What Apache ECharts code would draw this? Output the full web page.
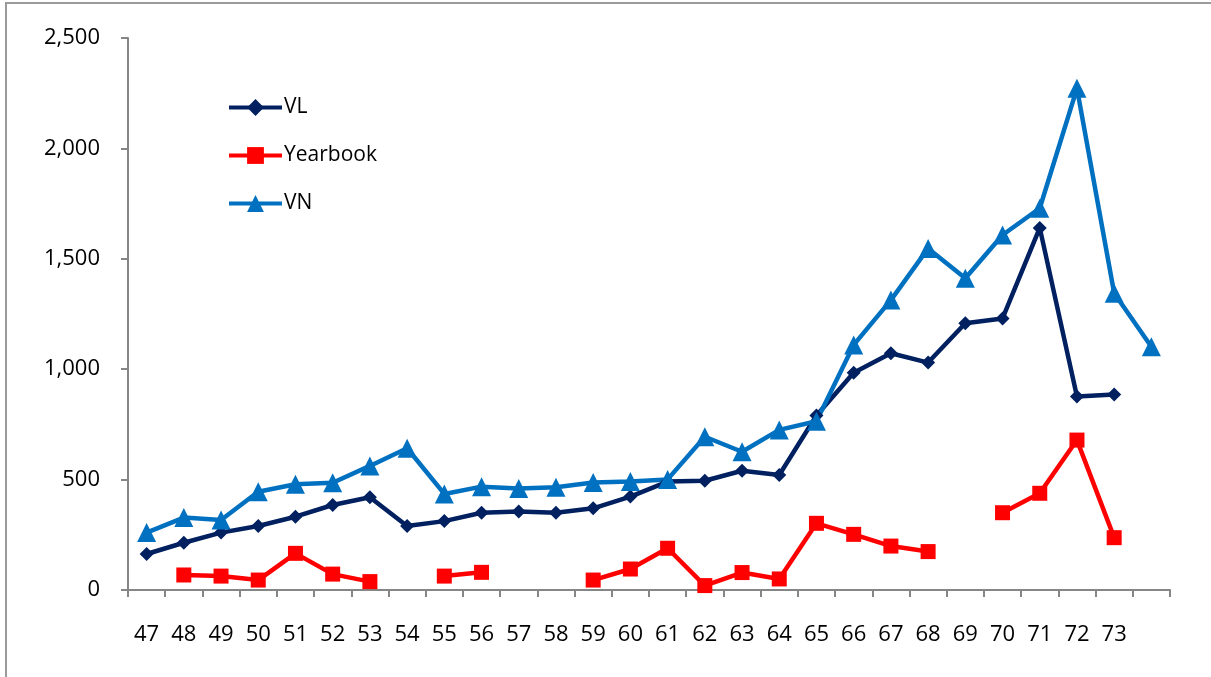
<!DOCTYPE html>
<html>
<head>
<meta charset="utf-8">
<script src="https://cdn.jsdelivr.net/npm/echarts@6/dist/echarts.min.js"></script>
<style>
  html, body { margin: 0; padding: 0; background: #fff; }
  #chart { width: 1211px; height: 677px; }
</style>
</head>
<body>
<div id="chart"></div>
<script>
// years 47..73, plus one unlabeled slot at the end (VN has a point there)
const years = ['47', '48', '49', '50', '51', '52', '53', '54', '55', '56', '57', '58', '59', '60',
  '61', '62', '63', '64', '65', '66', '67', '68', '69', '70', '71', '72', '73', '']

const vl = [163, 214, 260, 290, 332, 385, 420, 290, 312, 350, 355, 350, 370, 423,
  491, 495, 540, 521, 790, 984, 1072, 1030, 1208, 1230, 1640, 876, 885, null]

const yearbook = [null, 68, 63, 45, 166, 72, 38, null, 63, 80, null, null, 45, 95,
  189, 20, 79, 50, 302, 252, 199, 174, null, 350, 438, 679, 237, null]

const vn = [260, 328, 317, 445, 479, 486, 562, 642, 435, 468, 460, 465, 487, 491,
  501, 694, 626, 725, 764, 1110, 1313, 1547, 1412, 1608, 1729, 2272, 1344, 1102]

const font = 'Open Sans'
const axisGray = '#868686'

function lineSeries(name, data, color, symbol, size) {
  return {
    name,
    type: 'line',
    data,
    symbol,
    symbolSize: size,
    connectNulls: false,
    lineStyle: { color, width: 4.5 },
    itemStyle: { color },
    emphasis: { disabled: true },
  }
}

const chart = echarts.init(document.getElementById('chart'))
chart.setOption({
  animation: false,
  textStyle: { fontFamily: font },
  grid: { left: 128, right: 41, top: 38, bottom: 87 },
  graphic: [{
    type: 'rect',
    shape: { x: 6, y: 3, width: 1400, height: 900 },
    style: { fill: 'none', stroke: '#9a9a9a', lineWidth: 2 },
    silent: true,
  }],
  legend: {
    orient: 'vertical',
    left: 222,
    top: 92,
    itemWidth: 53,
    itemHeight: 21,
    itemGap: 27,
    lineStyle: { width: 4 },
    textStyle: { fontFamily: font, fontSize: 21, color: '#000', padding: [0, 0, 0, -3] },
    data: ['VL', 'Yearbook', 'VN'],
  },
  xAxis: {
    type: 'category',
    data: years,
    boundaryGap: true,
    axisLine: { lineStyle: { color: axisGray, width: 2 } },
    axisTick: { show: true, length: 7, lineStyle: { color: axisGray, width: 2 } },
    axisLabel: { color: '#000', fontSize: 22, fontFamily: font, margin: 34, interval: 0 },
  },
  yAxis: {
    type: 'value',
    min: 0,
    max: 2500,
    interval: 500,
    splitLine: { show: false },
    axisLine: { show: true, lineStyle: { color: axisGray, width: 2 } },
    axisTick: { show: true, length: 7, lineStyle: { color: axisGray, width: 2 } },
    axisLabel: {
      color: '#000', fontSize: 22, fontFamily: font, margin: 28,
      formatter: v => v.toLocaleString('en-US'),
    },
  },
  series: [
    lineSeries('VL', vl, '#002060', 'diamond', 14),
    lineSeries('Yearbook', yearbook, '#ff0000', 'rect', 15),
    lineSeries('VN', vn, '#0070c0', 'triangle', 19),
  ],
})
</script>
</body>
</html>
